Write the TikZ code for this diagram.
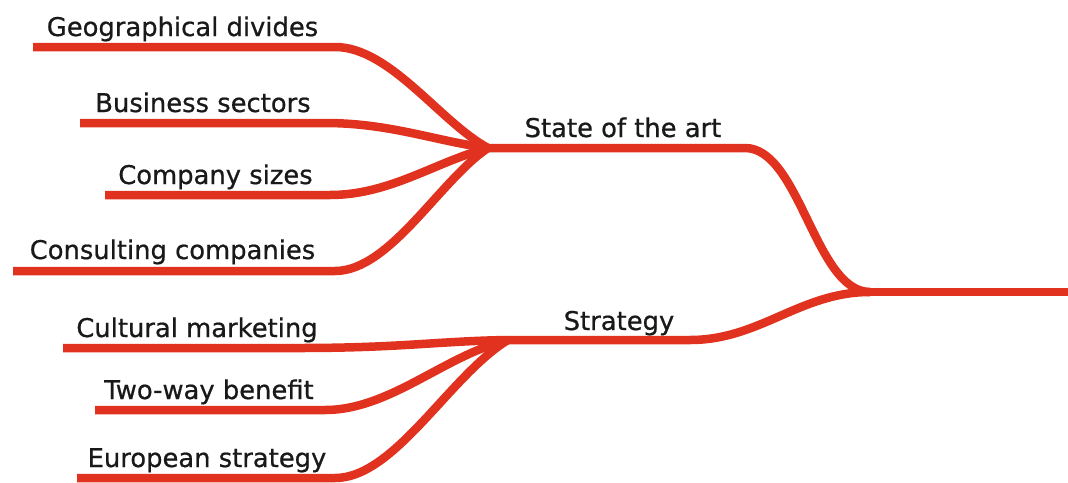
\documentclass[tikz,border=0pt]{standalone}
\usepackage{fontspec}
\setmainfont{DejaVu Sans}
\newfontfamily\lblfont{DejaVu Sans}[FakeBold=0.7]
\definecolor{mmred}{RGB}{224,50,30}
\definecolor{mmtext}{RGB}{25,25,25}
\begin{document}
\begin{tikzpicture}[x=1pt,y=-1pt,
  branch/.style={draw=mmred, line width=8.5pt, line cap=butt, line join=round},
  lbl/.style={font=\lblfont\fontsize{25.8}{30}\selectfont, anchor=base, inner sep=0pt, text=mmtext}]
\useasboundingbox (0,0) rectangle (1068,482);
% junctions
\coordinate (J1) at (488,148);
\coordinate (J2) at (508,340);
\coordinate (R) at (870,292);
\coordinate (Rend) at (1068,292);
% leaf line ends
\coordinate (gs) at (33,47);   \coordinate (ge) at (335,47);
\coordinate (bs) at (80,123);  \coordinate (be) at (325,123);
\coordinate (cs) at (105,195); \coordinate (ce) at (330,195);
\coordinate (ks) at (13,271);  \coordinate (ke) at (335,271);
\coordinate (ms) at (63,348);  \coordinate (me) at (300,348);
\coordinate (ws) at (95,410);  \coordinate (we) at (325,410);
\coordinate (es) at (77,478);  \coordinate (ee) at (335,478);
\coordinate (se) at (745,148);
\coordinate (te) at (690,340);
% connectors
\draw[branch] (R) -- (Rend);
\draw[branch] (J1) -- (se) .. controls (800,148) and (815,292) .. (R);
\draw[branch] (J2) -- (te) .. controls (760,340) and (800,292) .. (R);
\draw[branch] (gs) -- (ge) .. controls (390,47) and (440,122) .. (J1);
\draw[branch] (bs) -- (be) .. controls (390,123) and (435,141) .. (J1);
\draw[branch] (cs) -- (ce) .. controls (390,195) and (435,162) .. (J1);
\draw[branch] (ks) -- (ke) .. controls (390,271) and (440,180) .. (J1);
\draw[branch] (ms) -- (me) .. controls (400,348) and (440,341) .. (J2);
\draw[branch] (ws) -- (we) .. controls (390,410) and (445,355) .. (J2);
\draw[branch] (es) -- (ee) .. controls (395,478) and (450,375) .. (J2);
% labels
\node[lbl] (tgeo) at (182.5,36) {Geographical divides};
\node[lbl] (tbus) at (203,112) {Business sectors};
\node[lbl] (tcom) at (215.5,184) {Company sizes};
\node[lbl] (tcon) at (172.5,259) {Consulting companies};
\node[lbl] (tcul) at (197,337) {Cultural marketing};
\node[lbl] (ttwo) at (209,399) {Two-way benefit};
\node[lbl] (teur) at (207,467) {European strategy};
\node[lbl] (tsta) at (623,137) {State of the art};
\node[lbl] (tstr) at (619,330) {Strategy};
\end{tikzpicture}
\end{document}
